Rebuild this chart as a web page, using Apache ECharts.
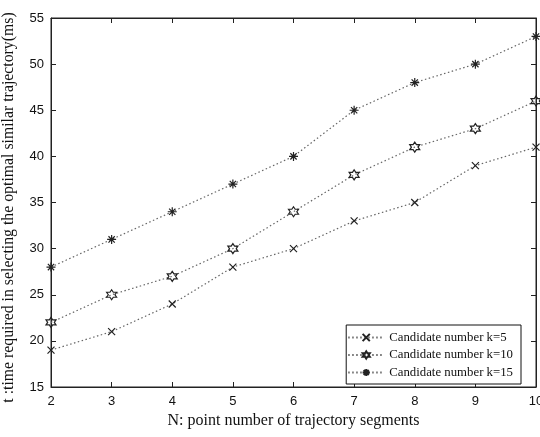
<!DOCTYPE html>
<html><head><meta charset="utf-8">
<script src="https://cdn.jsdelivr.net/npm/echarts@6/dist/echarts.min.js"></script>
<style>html,body{margin:0;padding:0;background:#fff}#c{width:540px;height:437px}</style>
</head><body><div id="c"></div>
<script>
const nValues = [2, 3, 4, 5, 6, 7, 8, 9, 10];
const k5 = [19, 21, 24, 28, 30, 33, 35, 39, 41];
const k10 = [22, 25, 27, 30, 34, 38, 41, 43, 46];
const k15 = [28, 31, 34, 37, 40, 45, 48, 50, 53];
const seriesNames = ['Candidate number k=5', 'Candidate number k=10', 'Candidate number k=15'];

const crossPath = 'path://M0,0L20,20M20,0L0,20';
const hexPath = 'path://M10,0L12.89,5L18.66,5L15.77,10L18.66,15L12.89,15L10,20L7.11,15L1.34,15L4.23,10L1.34,5L7.11,5Z';
const starPath = 'path://M10,0L10,20M0,10L20,10M3,3L17,17M17,3L3,17';

const chart = echarts.init(document.getElementById('c'), null, {renderer: 'canvas'});
function mk(name, vals, sym, size) {
  return {
    name: name, type: 'line', xAxisIndex: 0, yAxisIndex: 0,
    data: nValues.map((n, i) => [n, vals[i]]),
    symbol: sym, symbolSize: size, showSymbol: true,
    lineStyle: {color: '#666', width: 1.2, type: [1.5, 2.5]},
    itemStyle: {color: 'rgba(0,0,0,0)', borderColor: '#222', borderWidth: 1.2},
    emphasis: {disabled: true}, animation: false
  };
}
const tickStyle = {show: true, inside: true, length: 5, lineStyle: {color: '#222'}};
chart.setOption({
  animation: false,
  grid: {left: 51, right: 4, top: 18, bottom: 50, outerBoundsMode: 'none', containLabel: false,
         show: true, borderColor: '#222', borderWidth: 1},
  legend: {
    orient: 'vertical', right: 19, bottom: 53,
    backgroundColor: '#fff', borderColor: '#111', borderWidth: 1,
    padding: [6, 8, 5, 1], itemGap: 4.5, itemWidth: 36, itemHeight: 9,
    textStyle: {fontFamily: 'Liberation Serif', fontSize: 12.8, color: '#111', lineHeight: 13},
    data: seriesNames
  },
  xAxis: [{
    type: 'value', min: 2, max: 10, interval: 1, position: 'bottom',
    name: 'N: point number of trajectory segments', nameLocation: 'middle', nameGap: 21,
    nameTextStyle: {fontFamily: 'Liberation Serif', fontSize: 16, color: '#111'},
    axisLine: {show: true, onZero: false, lineStyle: {color: '#222'}},
    axisTick: tickStyle, splitLine: {show: false},
    axisLabel: {fontFamily: 'Liberation Sans', fontSize: 13, color: '#111', margin: 8}
  }, {
    type: 'value', min: 2, max: 10, interval: 1, position: 'top',
    axisLine: {show: true, lineStyle: {color: '#222'}},
    axisTick: tickStyle, splitLine: {show: false}, axisLabel: {show: false}
  }],
  yAxis: [{
    type: 'value', min: 15, max: 55, interval: 5, position: 'left',
    name: 't :time required in selecting the optimal similar trajectory(ms)', nameLocation: 'middle', nameGap: 34,
    nameTextStyle: {fontFamily: 'Liberation Serif', fontSize: 15.8, color: '#111', padding: [0, 10, 0, 0]},
    axisLine: {show: true, onZero: false, lineStyle: {color: '#222'}},
    axisTick: tickStyle, splitLine: {show: false},
    axisLabel: {fontFamily: 'Liberation Sans', fontSize: 13, color: '#111', margin: 7}
  }, {
    type: 'value', min: 15, max: 55, interval: 5, position: 'right',
    axisLine: {show: true, lineStyle: {color: '#222'}},
    axisTick: tickStyle, splitLine: {show: false}, axisLabel: {show: false}
  }],
  series: [
    mk(seriesNames[0], k5, crossPath, 7),
    mk(seriesNames[1], k10, hexPath, 10),
    mk(seriesNames[2], k15, starPath, 9)
  ]
});
</script></body></html>
